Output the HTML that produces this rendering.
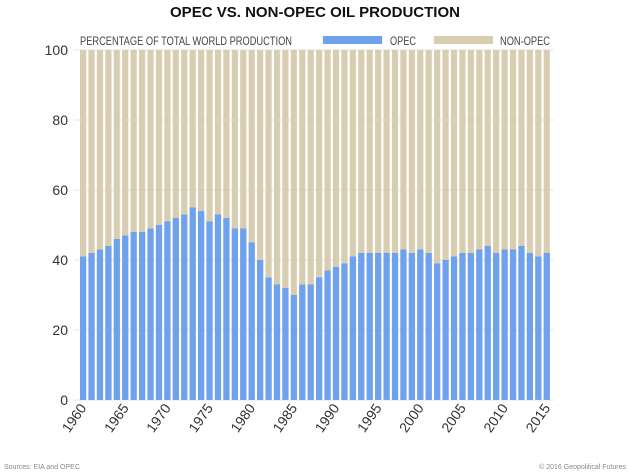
<!DOCTYPE html>
<html><head><style>
body{margin:0;background:#fff;}
svg{display:block;font-family:"Liberation Sans",sans-serif;}
</style></head><body>
<svg width="630" height="473" xmlns="http://www.w3.org/2000/svg">
<defs>
<pattern id="tan" x="80" y="0" width="8.43" height="10" patternUnits="userSpaceOnUse">
<rect x="0" y="0" width="6.2" height="10" fill="#d8cdb1"/>
</pattern>
</defs>
<rect width="630" height="473" fill="#fff"/>
<text x="315" y="17" text-anchor="middle" font-size="15" font-weight="bold" fill="#111" textLength="290" lengthAdjust="spacingAndGlyphs">OPEC VS. NON-OPEC OIL PRODUCTION</text>
<text x="80" y="45" font-size="11.5" fill="#444" textLength="212" lengthAdjust="spacingAndGlyphs">PERCENTAGE OF TOTAL WORLD PRODUCTION</text>
<rect x="323" y="36" width="59" height="8" fill="#6ea1ee"/>
<text x="390" y="45" font-size="11.5" fill="#444" textLength="26" lengthAdjust="spacingAndGlyphs">OPEC</text>
<rect x="434" y="36" width="59" height="8" fill="#d8cdb1"/>
<text x="500" y="45" font-size="11.5" fill="#444" textLength="50" lengthAdjust="spacingAndGlyphs">NON-OPEC</text>
<g font-size="14" fill="#333" text-anchor="end">
<text x="68" y="55">100</text><text x="68" y="125">80</text><text x="68" y="195">60</text><text x="68" y="265">40</text><text x="68" y="335">20</text><text x="68" y="405">0</text>
</g>
<g stroke="#e6e6e6" stroke-width="1">
<line x1="74" y1="50" x2="554" y2="50"/><line x1="74" y1="120" x2="554" y2="120"/><line x1="74" y1="190" x2="554" y2="190"/><line x1="74" y1="260" x2="554" y2="260"/><line x1="74" y1="330" x2="554" y2="330"/><line x1="74" y1="400" x2="554" y2="400"/>
</g>
<rect x="80" y="50" width="470" height="350" fill="url(#tan)"/>
<g fill="#6ea1ee">
<rect x="80" y="256.5" width="6.2" height="143.5"/>
<rect x="88.43" y="253" width="6.2" height="147"/>
<rect x="96.86" y="249.5" width="6.2" height="150.5"/>
<rect x="105.29" y="246" width="6.2" height="154"/>
<rect x="113.72" y="239" width="6.2" height="161"/>
<rect x="122.15" y="235.5" width="6.2" height="164.5"/>
<rect x="130.58" y="232" width="6.2" height="168"/>
<rect x="139.01" y="232" width="6.2" height="168"/>
<rect x="147.44" y="228.5" width="6.2" height="171.5"/>
<rect x="155.87" y="225" width="6.2" height="175"/>
<rect x="164.3" y="221.5" width="6.2" height="178.5"/>
<rect x="172.73" y="218" width="6.2" height="182"/>
<rect x="181.16" y="214.5" width="6.2" height="185.5"/>
<rect x="189.59" y="207.5" width="6.2" height="192.5"/>
<rect x="198.02" y="211" width="6.2" height="189"/>
<rect x="206.45" y="221.5" width="6.2" height="178.5"/>
<rect x="214.88" y="214.5" width="6.2" height="185.5"/>
<rect x="223.31" y="218" width="6.2" height="182"/>
<rect x="231.74" y="228.5" width="6.2" height="171.5"/>
<rect x="240.17" y="228.5" width="6.2" height="171.5"/>
<rect x="248.6" y="242.5" width="6.2" height="157.5"/>
<rect x="257.03" y="260" width="6.2" height="140"/>
<rect x="265.46" y="277.5" width="6.2" height="122.5"/>
<rect x="273.89" y="284.5" width="6.2" height="115.5"/>
<rect x="282.32" y="288" width="6.2" height="112"/>
<rect x="290.75" y="295" width="6.2" height="105"/>
<rect x="299.18" y="284.5" width="6.2" height="115.5"/>
<rect x="307.61" y="284.5" width="6.2" height="115.5"/>
<rect x="316.04" y="277.5" width="6.2" height="122.5"/>
<rect x="324.47" y="270.5" width="6.2" height="129.5"/>
<rect x="332.9" y="267" width="6.2" height="133"/>
<rect x="341.33" y="263.5" width="6.2" height="136.5"/>
<rect x="349.76" y="256.5" width="6.2" height="143.5"/>
<rect x="358.19" y="253" width="6.2" height="147"/>
<rect x="366.62" y="253" width="6.2" height="147"/>
<rect x="375.05" y="253" width="6.2" height="147"/>
<rect x="383.48" y="253" width="6.2" height="147"/>
<rect x="391.91" y="253" width="6.2" height="147"/>
<rect x="400.34" y="249.5" width="6.2" height="150.5"/>
<rect x="408.77" y="253" width="6.2" height="147"/>
<rect x="417.2" y="249.5" width="6.2" height="150.5"/>
<rect x="425.63" y="253" width="6.2" height="147"/>
<rect x="434.06" y="263.5" width="6.2" height="136.5"/>
<rect x="442.49" y="260" width="6.2" height="140"/>
<rect x="450.92" y="256.5" width="6.2" height="143.5"/>
<rect x="459.35" y="253" width="6.2" height="147"/>
<rect x="467.78" y="253" width="6.2" height="147"/>
<rect x="476.21" y="249.5" width="6.2" height="150.5"/>
<rect x="484.64" y="246" width="6.2" height="154"/>
<rect x="493.07" y="253" width="6.2" height="147"/>
<rect x="501.5" y="249.5" width="6.2" height="150.5"/>
<rect x="509.93" y="249.5" width="6.2" height="150.5"/>
<rect x="518.36" y="246" width="6.2" height="154"/>
<rect x="526.79" y="253" width="6.2" height="147"/>
<rect x="535.22" y="256.5" width="6.2" height="143.5"/>
<rect x="543.65" y="253" width="6.2" height="147"/>
</g>
<g font-size="14" fill="#333" text-anchor="end">
<text transform="translate(87,408) rotate(-55)">1960</text>
<text transform="translate(129.3,408) rotate(-55)">1965</text>
<text transform="translate(171.4,408) rotate(-55)">1970</text>
<text transform="translate(213.6,408) rotate(-55)">1975</text>
<text transform="translate(255.7,408) rotate(-55)">1980</text>
<text transform="translate(297.9,408) rotate(-55)">1985</text>
<text transform="translate(340,408) rotate(-55)">1990</text>
<text transform="translate(382.2,408) rotate(-55)">1995</text>
<text transform="translate(424.3,408) rotate(-55)">2000</text>
<text transform="translate(466.5,408) rotate(-55)">2005</text>
<text transform="translate(508.6,408) rotate(-55)">2010</text>
<text transform="translate(550.8,408) rotate(-55)">2015</text>
</g>
<text x="4" y="469" font-size="7" fill="#888">Sources: EIA and OPEC</text>
<text x="626" y="469" font-size="7" fill="#888" text-anchor="end">© 2016 Geopolitical Futures</text>
</svg>
</body></html>
